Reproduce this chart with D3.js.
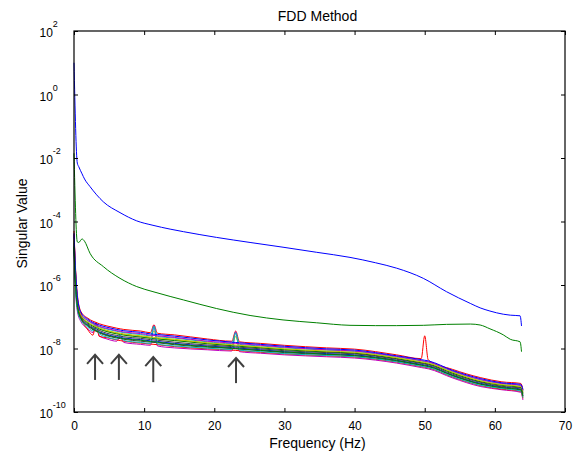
<!DOCTYPE html>
<html lang="en">
<head>
  <meta charset="UTF-8">
  <title>FDD Method</title>
  <style>
    body { margin: 0; background: white; }
    text { font-family: "Liberation Sans", Arial, Helvetica, sans-serif; fill: black; }
  </style>
</head>
<body>

  <script src="https://d3js.org/d3.v7.min.js"></script>

  <script>
    // all singular values are stored as log10 exponents

    // first two singular values (blue, green)
    let freqMain = [0, 0.47, 0.67, 1.15, 1.5, 2.28, 4.18, 6.56, 8.94, 11.26, 13.7, 15.6, 20.3, 25.1,
      29.8, 34.6, 39.35, 43, 46, 49.8, 53.1, 56.5, 57.9, 59.3, 61.2, 62.2, 63.6, 63.8];
    let sv1 = [1.0, -2.16, -2.27, -2.5, -2.66, -2.9, -3.38, -3.72, -3.98, -4.12, -4.24, -4.32, -4.50, -4.66,
      -4.81, -4.97, -5.13, -5.3, -5.47, -5.79, -6.21, -6.58, -6.72, -6.82, -6.92, -6.95, -6.97, -7.29];
    let sv2 = [-1.85, -4.64, -4.66, -4.55, -4.62, -5.0, -5.42, -5.79, -6.05, -6.21, -6.36, -6.47, -6.74, -6.96,
      -7.1, -7.19, -7.27, -7.28, -7.28, -7.27, -7.24, -7.23, -7.26, -7.38, -7.57, -7.71, -7.79, -8.1];

    // the rest of the singular values (the noise band)
    let freqBand = [0, 0.25, 0.5, 1, 2, 2.7, 3.15, 3.6, 4.7, 6.1, 6.6, 7.1, 9.5, 10.9, 11.4, 11.9, 14.3,
      19, 22.5, 23.05, 23.6, 26.6, 30, 36, 40, 46, 49.5, 50, 50.5, 54, 58, 61, 63.7, 64];
    let sv3 = [-4.30,-5.60,-6.35,-6.84,-7.05,-7.14,-7.18,-7.22,-7.29,-7.36,-7.38,-7.40,-7.45,-7.50,-7.25,-7.52,-7.57,
      -7.70,-7.77,-7.45,-7.79,-7.84,-7.90,-7.98,-8.02,-8.20,-8.32,-7.60,-8.36,-8.66,-8.92,-9.05,-9.10,-9.30];
    let sv4 = [-4.48,-5.78,-6.48,-6.92,-7.13,-7.23,-7.27,-7.32,-7.39,-7.46,-7.48,-7.50,-7.56,-7.60,-7.30,-7.62,-7.67,
      -7.79,-7.85,-7.50,-7.87,-7.92,-7.98,-8.05,-8.09,-8.27,-8.39,-8.41,-8.43,-8.73,-8.99,-9.11,-9.17,-9.34];
    let sv5 = [-4.95,-6.30,-6.85,-7.16,-7.38,-7.50,-7.20,-7.60,-7.70,-7.77,-7.60,-7.81,-7.87,-7.90,-7.28,-7.92,-7.98,
      -8.04,-8.08,-7.47,-8.10,-8.15,-8.20,-8.26,-8.30,-8.46,-8.60,-8.62,-8.64,-8.93,-9.20,-9.30,-9.38,-9.62];
    let sv6 = [-4.58,-5.88,-6.55,-6.97,-7.18,-7.28,-7.33,-7.37,-7.45,-7.52,-7.54,-7.56,-7.62,-7.66,-7.45,-7.68,-7.73,
      -7.83,-7.90,-7.62,-7.92,-7.97,-8.03,-8.10,-8.14,-8.31,-8.44,-8.46,-8.48,-8.77,-9.04,-9.15,-9.22,-9.39];
    let sv7 = [-4.83,-6.13,-6.73,-7.08,-7.30,-7.41,-7.46,-7.51,-7.60,-7.67,-7.69,-7.71,-7.77,-7.80,-7.81,-7.82,-7.88,
      -7.96,-8.00,-8.01,-8.02,-8.07,-8.13,-8.19,-8.23,-8.40,-8.53,-8.55,-8.57,-8.86,-9.13,-9.24,-9.31,-9.51];
    let sv8 = [-4.76,-6.06,-6.68,-7.05,-7.26,-7.37,-7.42,-7.47,-7.56,-7.63,-7.65,-7.67,-7.72,-7.76,-7.77,-7.78,-7.84,
      -7.92,-7.97,-7.98,-7.99,-8.04,-8.10,-8.16,-8.20,-8.37,-8.50,-8.52,-8.54,-8.84,-9.10,-9.21,-9.28,-9.48];
    let sv9 = [-4.62,-5.92,-6.58,-6.98,-7.20,-7.30,-7.35,-7.39,-7.47,-7.54,-7.56,-7.58,-7.64,-7.68,-7.69,-7.70,-7.75,
      -7.85,-7.91,-7.92,-7.93,-7.98,-8.04,-8.11,-8.15,-8.32,-8.45,-8.47,-8.49,-8.78,-9.05,-9.16,-9.23,-9.41];
    let sv10 = [-4.40,-5.70,-6.50,-7.00,-7.42,-7.58,-7.18,-7.62,-7.66,-7.73,-7.75,-7.77,-7.83,-7.86,-7.87,-7.88,-7.94,
      -8.01,-8.05,-8.06,-8.07,-8.12,-8.17,-8.23,-8.27,-8.43,-8.57,-8.59,-8.61,-8.90,-9.17,-9.28,-9.35,-9.57];
    let sv11 = [-4.90,-6.20,-6.78,-7.11,-7.33,-7.45,-7.25,-7.54,-7.64,-7.71,-7.57,-7.75,-7.81,-7.84,-7.30,-7.86,-7.92,
      -7.99,-8.03,-7.50,-8.05,-8.10,-8.16,-8.22,-8.26,-8.42,-8.56,-8.58,-8.60,-8.89,-9.16,-9.26,-9.34,-9.55];
    let sv12 = [-4.44,-5.74,-6.45,-6.90,-7.12,-7.21,-7.25,-7.30,-7.37,-7.44,-7.46,-7.48,-7.53,-7.58,-7.59,-7.60,-7.65,
      -7.77,-7.83,-7.84,-7.85,-7.90,-7.96,-8.04,-8.08,-8.25,-8.38,-8.40,-8.42,-8.71,-8.98,-9.10,-9.16,-9.32];
    let sv13 = [-4.55,-5.85,-6.53,-6.95,-7.17,-7.27,-7.31,-7.35,-7.43,-7.50,-7.52,-7.54,-7.60,-7.64,-7.65,-7.66,-7.71,
      -7.82,-7.88,-7.89,-7.90,-7.95,-8.01,-8.08,-8.12,-8.29,-8.42,-8.44,-8.46,-8.75,-9.02,-9.14,-9.20,-9.37];
    let sv14 = [-4.69,-5.99,-6.63,-7.02,-7.23,-7.34,-7.38,-7.43,-7.52,-7.59,-7.61,-7.63,-7.68,-7.72,-7.73,-7.74,-7.80,
      -7.89,-7.94,-7.95,-7.96,-8.01,-8.07,-8.13,-8.17,-8.34,-8.47,-8.49,-8.51,-8.81,-9.07,-9.19,-9.25,-9.44];
    let sv15 = [-4.37,-5.67,-6.40,-6.87,-7.08,-7.18,-7.22,-7.26,-7.33,-7.40,-7.42,-7.44,-7.49,-7.54,-7.55,-7.56,-7.61,
      -7.73,-7.80,-7.81,-7.82,-7.87,-7.93,-8.01,-8.05,-8.23,-8.35,-8.37,-8.39,-8.69,-8.95,-9.08,-9.13,-9.29];
    let sv16 = [-4.79,-6.09,-6.70,-7.06,-7.28,-7.39,-7.44,-7.49,-7.58,-7.65,-7.67,-7.69,-7.74,-7.78,-7.79,-7.80,-7.86,
      -7.94,-7.99,-8.00,-8.01,-8.06,-8.11,-8.18,-8.22,-8.38,-8.52,-8.54,-8.56,-8.85,-9.12,-9.23,-9.30,-9.50];

    let bandSeries = [sv3, sv4, sv5, sv6, sv7, sv8, sv9, sv10, sv11, sv12, sv13, sv14, sv15, sv16];

    // old matlab colour order: b g r c m y k
    let colorOrder = ["#0000ff", "#008000", "#ff0000", "#00bfbf", "#bf00bf", "#bfbf00", "#404040"];

    // axis ticks
    let xTicks = [0, 10, 20, 30, 40, 50, 60, 70];
    let yExponents = [2, 0, -2, -4, -6, -8, -10];

    // the arrows that mark the modes (Hz, log10 of tip, log10 of tail)
    let arrowFreq = [3.0, 6.4, 11.3, 23.1];
    let arrowTip = [-8.20, -8.20, -8.27, -8.30];
    let arrowTail = [-8.99, -8.99, -9.06, -9.09];

    let svgWidth = 580;
    let svgHeight = 455;
    let plotLeft = 74, plotRight = 565, plotTop = 31, plotBottom = 412;

    let svg = d3.select("body")
      .append("svg")
      .attr("width", svgWidth)
      .attr("height", svgHeight);

    let x = d3.scaleLinear().domain([0, 70]).range([plotLeft, plotRight]);
    let y = d3.scaleLog().domain([1e-10, 1e2]).range([plotBottom, plotTop]);

    let line = d3.line()
      .curve(d3.curveMonotoneX)
      .x(d => x(d[0]))
      .y(d => y(Math.pow(10, d[1])));

    let plot = svg.append("g");

    // main two curves first, then the band, same order matlab plots the columns
    let allSeries = [
      { f: freqMain, v: sv1 },
      { f: freqMain, v: sv2 }
    ];
    bandSeries.forEach(s => allSeries.push({ f: freqBand, v: s }));

    allSeries.forEach((s, i) => {
      plot.append("path")
        .datum(d3.zip(s.f, s.v))
        .attr("d", line)
        .attr("fill", "none")
        .attr("stroke", colorOrder[i % colorOrder.length])
        .attr("stroke-width", 1)
        .attr("stroke-linejoin", "round");
    });

    // arrows
    let arrows = svg.append("g")
      .attr("stroke", "#404040")
      .attr("stroke-width", 2)
      .attr("fill", "none");

    arrowFreq.forEach((f, i) => {
      let ax = x(f);
      let ay1 = y(Math.pow(10, arrowTip[i]));
      let ay2 = y(Math.pow(10, arrowTail[i]));
      arrows.append("line")
        .attr("x1", ax).attr("y1", ay1)
        .attr("x2", ax).attr("y2", ay2);
      arrows.append("path")
        .attr("d", "M" + (ax - 8) + "," + (ay1 + 9) + "L" + ax + "," + ay1 + "L" + (ax + 8) + "," + (ay1 + 9));
    });

    // axes with inward ticks on all four sides
    let xBottom = svg.append("g")
      .attr("transform", "translate(0," + plotBottom + ")")
      .call(d3.axisBottom(x).tickValues(xTicks).tickSize(-4).tickPadding(9.5).tickFormat(d3.format("d")));
    let xTop = svg.append("g")
      .attr("transform", "translate(0," + plotTop + ")")
      .call(d3.axisTop(x).tickValues(xTicks).tickSize(-4).tickFormat(""));

    let yTickValues = yExponents.map(e => Math.pow(10, e));
    let yLeft = svg.append("g")
      .attr("transform", "translate(" + plotLeft + ",0)")
      .call(d3.axisLeft(y).tickValues(yTickValues).tickSize(-4).tickFormat(""));
    let yRight = svg.append("g")
      .attr("transform", "translate(" + plotRight + ",0)")
      .call(d3.axisRight(y).tickValues(yTickValues).tickSize(-4).tickFormat(""));

    svg.selectAll(".domain").remove();
    svg.selectAll(".tick line").attr("stroke", "black").attr("stroke-width", 1);
    xBottom.selectAll("text")
      .style("font-size", "12px")
      .style("font-family", "\"Liberation Sans\", Arial, sans-serif")
      .attr("fill", "black");

    // y labels as 10^n
    yExponents.forEach(e => {
      let ty = y(Math.pow(10, e));
      let t = svg.append("text")
        .attr("x", 39.5)
        .attr("y", ty + 6)
        .style("font-size", "12px");
      t.append("tspan").text("10");
      t.append("tspan")
        .attr("dy", -10)
        .style("font-size", "9px")
        .text(e);
    });

    // box
    svg.append("rect")
      .attr("x", plotLeft)
      .attr("y", plotTop)
      .attr("width", plotRight - plotLeft)
      .attr("height", plotBottom - plotTop)
      .attr("fill", "none")
      .attr("stroke", "black")
      .attr("stroke-width", 1.2);

    // titles
    svg.append("text")
      .attr("x", (plotLeft + plotRight) / 2 - 2)
      .attr("y", 20.5)
      .attr("text-anchor", "middle")
      .style("font-size", "14px")
      .text("FDD Method");

    svg.append("text")
      .attr("x", (plotLeft + plotRight) / 2 - 2)
      .attr("y", 448)
      .attr("text-anchor", "middle")
      .style("font-size", "14px")
      .text("Frequency (Hz)");

    svg.append("text")
      .attr("transform", "translate(26.5," + ((plotTop + plotBottom) / 2 + 2) + ") rotate(-90)")
      .attr("text-anchor", "middle")
      .style("font-size", "14px")
      .text("Singular Value");
  </script>
</body>
</html>
